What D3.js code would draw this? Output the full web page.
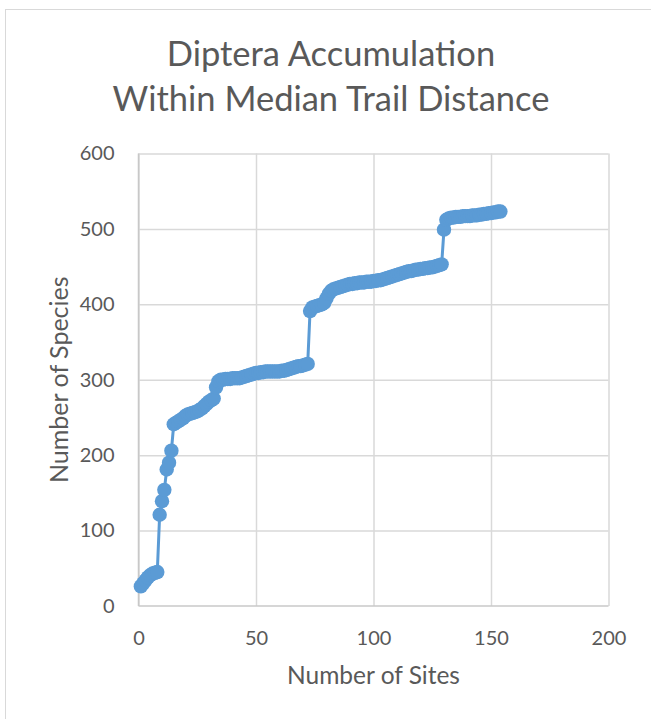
<!DOCTYPE html>
<html>
<head>
<meta charset="utf-8">
<script src="https://cdn.jsdelivr.net/npm/d3@7"></script>
<style>
  html, body { margin: 0; padding: 0; background: #fff; }
  svg { display: block; }
  text { font-family: Lato, "Open Sans", sans-serif; fill: #595959; }
</style>
</head>
<body>
<svg id="chart" width="651" height="719"></svg>
<script>
// Cumulative species count by number of sites sampled
const titleLines = ["Diptera Accumulation", "Within Median Trail Distance"];
const xLabel = "Number of Sites";
const yLabel = "Number of Species";
const xTicks = [0, 50, 100, 150, 200];
const yTicks = [0, 100, 200, 300, 400, 500, 600];

const species = [
  26, 30, 34, 38, 41, 43, 44, 45, 121, 139,
  154, 181, 190, 206, 241, 243, 245, 247, 249, 252,
  254, 255, 256, 257, 258, 260, 262, 265, 268, 271,
  273, 275, 290, 298, 300, 300, 301, 301, 301, 302,
  302, 302, 302, 303, 304, 305, 306, 307, 308, 309,
  309, 310, 310, 311, 311, 311, 311, 311, 311, 311,
  312, 312, 313, 314, 315, 316, 317, 318, 318, 319,
  320, 321, 391, 396, 397, 398, 399, 400, 402, 408,
  414, 418, 420, 421, 422, 423, 424, 425, 426, 427,
  427, 428, 428, 429, 429, 429, 430, 430, 430, 431,
  431, 432, 432, 433, 434, 435, 436, 437, 438, 439,
  440, 441, 442, 443, 444, 444, 445, 446, 446, 447,
  447, 448, 448, 449, 449, 450, 451, 452, 453, 499,
  512, 514, 515, 515, 516, 516, 516, 517, 517, 517,
  517, 518, 518, 518, 519, 519, 520, 520, 521, 521,
  522, 522, 523, 523
];
const sites = species.map((_, i) => i + 1);
const points = sites.map((s, i) => ({ x: s, y: species[i] }));

const svg = d3.select("#chart");

// chart frame
svg.append("rect")
  .attr("x", 5.5).attr("y", 9.5)
  .attr("width", 700).attr("height", 760)
  .attr("fill", "#fff").attr("stroke", "#d9d9d9").attr("stroke-width", 1);

const plot = { left: 138.5, right: 608.5, top: 153.5, bottom: 606 };

const x = d3.scaleLinear().domain([0, 200]).range([plot.left, plot.right]);
const y = d3.scaleLinear().domain([0, 600]).range([plot.bottom, plot.top]);

// vertical gridlines
svg.append("g")
  .attr("transform", `translate(0,${plot.bottom})`)
  .call(d3.axisBottom(x).tickValues(xTicks).tickSize(-(plot.bottom - plot.top)).tickFormat(""))
  .call(g => g.select(".domain").remove())
  .call(g => g.selectAll("line").attr("stroke", "#d9d9d9").attr("stroke-width", 1.5));

// horizontal gridlines
svg.append("g")
  .attr("transform", `translate(${plot.left},0)`)
  .call(d3.axisLeft(y).tickValues(yTicks.filter(v => v > 0)).tickSize(-(plot.right - plot.left)).tickFormat(""))
  .call(g => g.select(".domain").remove())
  .call(g => g.selectAll("line").attr("stroke", "#d9d9d9").attr("stroke-width", 1.5));

// axis lines
svg.append("line")
  .attr("x1", plot.left).attr("x2", plot.right)
  .attr("y1", plot.bottom).attr("y2", plot.bottom)
  .attr("stroke", "#c8c8c8").attr("stroke-width", 1.5);
svg.append("line")
  .attr("x1", plot.left).attr("x2", plot.left)
  .attr("y1", plot.top).attr("y2", plot.bottom)
  .attr("stroke", "#c8c8c8").attr("stroke-width", 1.5);

// tick labels
const xAxis = svg.append("g")
  .attr("transform", `translate(0,${plot.bottom})`)
  .call(d3.axisBottom(x).tickValues(xTicks).tickSize(0).tickPadding(25));
xAxis.select(".domain").remove();
xAxis.selectAll("text")
  .style("font-family", "Lato, sans-serif").style("font-size", "20px").attr("fill", "#595959");

const yAxis = svg.append("g")
  .attr("transform", `translate(${plot.left},0)`)
  .call(d3.axisLeft(y).tickValues(yTicks).tickSize(0).tickPadding(24));
yAxis.select(".domain").remove();
yAxis.selectAll("text")
  .style("font-family", "Lato, sans-serif").style("font-size", "20px").attr("fill", "#595959");

// series line and markers
svg.append("path")
  .datum(points)
  .attr("fill", "none")
  .attr("stroke", "#5b9bd5")
  .attr("stroke-width", 3)
  .attr("stroke-linejoin", "round")
  .attr("d", d3.line().x(d => x(d.x)).y(d => y(d.y)));

svg.append("g")
  .selectAll("circle")
  .data(points)
  .join("circle")
  .attr("cx", d => x(d.x))
  .attr("cy", d => y(d.y))
  .attr("r", 7.2)
  .attr("fill", "#5b9bd5");

// title
svg.append("text")
  .attr("x", 331).attr("text-anchor", "middle")
  .style("font-size", "34.5px")
  .selectAll("tspan")
  .data(titleLines)
  .join("tspan")
  .attr("x", 331)
  .attr("y", (d, i) => 66 + i * 45)
  .text(d => d);

// axis titles
svg.append("text")
  .attr("x", x(100)).attr("y", 684)
  .attr("text-anchor", "middle")
  .style("font-size", "24.5px")
  .text(xLabel);

svg.append("text")
  .attr("transform", `translate(68,${y(300)}) rotate(-90)`)
  .attr("text-anchor", "middle")
  .style("font-size", "25px")
  .text(yLabel);
</script>
</body>
</html>
